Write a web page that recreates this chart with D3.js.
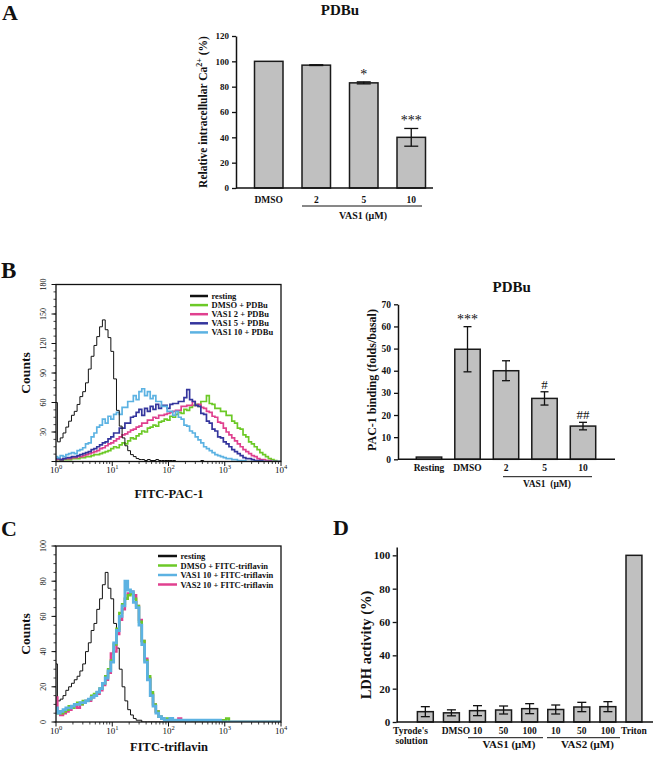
<!DOCTYPE html>
<html><head><meta charset="utf-8">
<script src="https://cdn.jsdelivr.net/npm/d3@7/dist/d3.min.js"></script>
<style>
body{margin:0;background:#fff}
svg{display:block;font-family:"Liberation Serif","Times New Roman",serif}
</style></head><body>
<svg id="fig" width="660" height="758"></svg>
<script>
// ---------------- DATA ----------------
// Panel A: relative intracellular Ca2+ (%)
const aCategories = ["DMSO", "2", "5", "10"];
const aValues = [100, 97, 83, 40];
const aErrors = [0, 0.3, 0.8, 7];
const aMarks = ["", "", "*", "***"];
const aTicks = [0, 20, 40, 60, 80, 100, 120];

// Panel B right: PAC-1 binding (folds/basal)
const bCategories = ["Resting", "DMSO", "2", "5", "10"];
const bValues = [1, 49.7, 40, 27.5, 15];
const bErrors = [0, 10.2, 4.5, 3, 1.7];
const bMarks = ["", "***", "", "#", "##"];
const bTicks = [0, 10, 20, 30, 40, 50, 60, 70];

// Panel D: LDH activity (%)
const dCategories = ["Tyrode's", "DMSO", "10", "50", "100", "10", "50", "100", "Triton"];
const dValues = [6.2, 5.5, 6.8, 7.2, 8.0, 7.5, 9.0, 9.2, 100];
const dErrors = [3, 1.8, 3, 2.4, 3, 2.7, 2.8, 3, 0];
const dTicks = [0, 20, 40, 60, 80, 100];

// Flow cytometry histograms: log10 channel bins (0 .. 4 decades)
const logBins = [0,0.05,0.1,0.15,0.2,0.25,0.3,0.35,0.4,0.45,0.5,0.55,0.6,0.65,0.7,0.75,0.8,0.85,0.9,0.95,
 1,1.05,1.1,1.15,1.2,1.25,1.3,1.35,1.4,1.45,1.5,1.55,1.6,1.65,1.7,1.75,1.8,1.85,1.9,1.95,
 2,2.05,2.1,2.15,2.2,2.25,2.3,2.35,2.4,2.45,2.5,2.55,2.6,2.65,2.7,2.75,2.8,2.85,2.9,2.95,
 3,3.05,3.1,3.15,3.2,3.25,3.3,3.35,3.4,3.45,3.5,3.55,3.6,3.65,3.7,3.75,3.8,3.85,3.9,3.95,4];
const decadeTicks = [1, 10, 100, 1000, 10000];
const decadeExp = ["0", "1", "2", "3", "4"];

// Panel B histogram counts
const bRestingCounts = [60,20,24,29,35,41,47,51,58,66, 71,80,94,107,118,127,137,144,134,126,
 112,84,52,36,24,16,11,7,5,3, 2,2,1,2,1,1,2,1,1,1, 1,1,1,0,0,0,0,0,0,0,
 0,0,1,0,0,0,0,0,0,0, 0,0,0,0,0,0,0,0,0,0, 0,0,0,0,0,0,0,0,0,0, 0];
const bDmsoCounts = [2,2,1,2,2,2,3,3,3,4, 4,5,5,6,7,7,8,9,10,11,
 13,15,14,17,19,18,21,24,23,26, 28,31,30,34,35,37,36,40,41,43,
 42,46,45,48,50,49,53,52,55,57, 58,56,61,61,67,59,58,54,54,51,
 51,47,47,41,39,34,33,27,25,20, 18,15,12,9,7,5,3,2,1,0, 0];
const bVas1_2Counts = [2,3,2,3,3,3,4,4,5,5, 6,7,8,9,10,11,13,14,16,18,
 19,21,23,25,27,28,30,32,33,35, 36,39,39,42,42,45,44,47,47,48,
 49,50,51,52,52,56,56,57,57,61, 57,58,55,54,51,50,46,45,40,39,
 34,30,27,24,21,18,15,12,10,8, 6,5,3,2,2,1,1,0,0,0, 0];
const bVas1_5Counts = [3,3,2,3,4,4,5,5,6,7, 8,9,10,12,13,15,17,19,20,23,
 25,29,29,34,34,39,39,45,46,50, 53,47,54,51,56,53,58,54,57,57,
 54,58,59,59,61,61,65,73,63,61, 57,56,49,48,41,39,33,31,25,24,
 20,18,15,12,10,8,6,4,3,3, 2,1,1,1,0,0,0,0,0,0, 0];
const bVas1_10Counts = [5,4,6,5,7,8,9,8,11,12, 14,18,19,25,29,35,37,43,39,46,
 43,48,50,48,55,55,61,61,67,63, 71,74,67,71,64,67,61,61,56,56,
 51,51,47,51,45,43,37,36,31,29, 25,22,19,15,13,11,9,7,6,5,
 4,3,3,2,2,1,1,1,0,0, 0,0,0,0,0,0,0,0,0,0, 0];

// Panel C histogram counts
const cRestingCounts = [33,12,13,15,18,20,22,24,26,29, 33,40,45,52,56,64,70,78,85,76,
 70,56,42,30,20,12,7,4,2,1, 1,0,0,0,0,0,0,0,0,0,
 0,0,0,0,0,0,0,0,0,0, 0,0,0,0,0,0,0,0,0,0, 0,0,0,0,0,0,0,0,0,0, 0,0,0,0,0,0,0,0,0,0, 0];
const cDmsoCounts = [6,5,5,6,7,9,8,10,11,10, 12,12,13,15,16,17,19,22,26,30,
 35,44,53,62,67,70,72,73,70,66, 57,46,35,26,17,10,6,3,2,1,
 2,1,1,1,1,1,1,1,1,1, 1,1,1,1,1,1,0,1,1,0, 1,2,0,0,0,0,0,0,0,0, 0,0,0,0,0,0,0,0,0,0, 0];
const cVas1Counts = [8,5,6,7,8,8,9,10,10,11, 11,12,13,14,15,17,19,22,25,29,
 34,45,52,60,66,80,75,74,68,65, 55,44,34,24,15,9,5,3,2,1,
 1,2,1,1,1,1,1,0,1,1, 1,1,1,1,0,1,1,1,1,0, 0,0,0,0,0,0,0,0,0,0, 0,0,0,0,0,0,0,0,0,0, 0];
const cVas2Counts = [14,6,4,5,6,7,8,9,8,10, 11,12,12,14,15,16,18,21,24,28,
 39,40,50,58,64,70,73,74,72,66, 58,46,36,25,16,10,6,3,2,1,
 1,1,1,1,2,1,1,1,1,1, 1,1,1,1,1,1,1,1,1,1, 0,0,0,0,0,0,0,0,0,0, 0,0,0,0,0,0,0,0,0,0, 0];

const bLegend = ["resting", "DMSO + PDBu", "VAS1 2 + PDBu", "VAS1 5 + PDBu", "VAS1 10 + PDBu"];
const cLegend = ["resting", "DMSO + FITC-triflavin", "VAS1 10 + FITC-triflavin", "VAS2 10 + FITC-triflavin"];

// ---------------- DRAWING ----------------
const svg = d3.select("#fig");
const INK = "#111";
const BAR = "#c0c0c0";
const COL = {black:"#111111", green:"#6cc927", magenta:"#e0408f", navy:"#34359d", sky:"#5cb2e2"};

function txt(g, x, y, s, size, opt = {}) {
  return g.append("text").attr("x", x).attr("y", y).text(s)
    .attr("font-size", size).attr("font-weight", opt.weight || "bold")
    .attr("text-anchor", opt.anchor || "start").attr("fill", INK);
}

function barPanel(c) {
  const g = svg.append("g");
  const idx = c.values.map((d, i) => i);
  const x = d3.scaleBand().domain(idx).range(c.band).paddingInner(c.pad).paddingOuter(c.pad / 2);
  const y = d3.scaleLinear().domain(c.yDomain).range(c.yRange);
  g.selectAll("rect.bar").data(c.values).join("rect").attr("class", "bar")
    .attr("x", (d, i) => x(i)).attr("y", d => y(d))
    .attr("width", x.bandwidth()).attr("height", d => y(0) - y(d))
    .attr("fill", BAR).attr("stroke", "#1a1a1a").attr("stroke-width", 1.5);
  const eg = g.append("g").attr("stroke", INK).attr("stroke-width", 1.3);
  c.values.forEach((v, i) => {
    const e = c.errors[i]; if (!e) return;
    const cx = x(i) + x.bandwidth() / 2;
    eg.append("line").attr("x1", cx).attr("x2", cx).attr("y1", y(v - e)).attr("y2", y(v + e));
    [v - e, v + e].forEach(t => eg.append("line").attr("x1", cx - c.cap / 2).attr("x2", cx + c.cap / 2)
      .attr("y1", y(t)).attr("y2", y(t)));
  });
  if (c.marks) c.marks.forEach((m, i) => {
    if (!m) return;
    const cx = x(i) + x.bandwidth() / 2;
    txt(g, cx, y(c.values[i] + c.errors[i]) - 3, m, m.includes("#") ? 13 : 14, {anchor: "middle", weight: "normal"});
  });
  const ya = g.append("g").attr("transform", `translate(${c.axisX},0)`)
    .call(d3.axisLeft(y).tickValues(c.ticks).tickSize(4).tickPadding(c.tickPad).tickSizeOuter(0));
  ya.select(".domain").attr("stroke", INK).attr("stroke-width", 1.5);
  ya.selectAll(".tick line").attr("stroke", INK).attr("stroke-width", 1.3);
  ya.selectAll("text").attr("font-family", "Liberation Serif").attr("font-weight", "bold")
    .attr("font-size", c.tickFont).attr("fill", INK);
  g.append("line").attr("x1", c.axisX).attr("x2", c.axisEnd).attr("y1", y(0)).attr("y2", y(0))
    .attr("stroke", INK).attr("stroke-width", 1.5);
  return {g, x, y};
}

// ----- Panel A -----
txt(svg, 2, 20, "A", 22);
txt(svg, 340, 15, "PDBu", 15, {anchor: "middle"});
const pA = barPanel({values: aValues, errors: aErrors, marks: aMarks, band: [245, 435], pad: 0.4,
  yDomain: [0, 120], yRange: [188, 36], ticks: aTicks, axisX: 236, axisEnd: 433, tickPad: 3,
  tickFont: 9, cap: 14});
aCategories.forEach((s, i) => txt(pA.g, pA.x(i) + pA.x.bandwidth() / 2, 202.5, s, 9.5, {anchor: "middle"}));
pA.g.append("line").attr("x1", 302).attr("x2", 422).attr("y1", 206).attr("y2", 206).attr("stroke", INK).attr("stroke-width", 1);
txt(pA.g, 363, 218.5, "VAS1 (μM)", 10, {anchor: "middle"});
{
  const t = pA.g.append("text").attr("transform", "translate(207,112) rotate(-90)")
    .attr("text-anchor", "middle").attr("font-size", 11.5).attr("font-weight", "bold").attr("fill", INK);
  t.append("tspan").text("Relative intracellular Ca");
  t.append("tspan").attr("dy", -5).attr("font-size", 8).text("2+");
  t.append("tspan").attr("dy", 5).text(" (%)");
}

// ----- Panel B right -----
txt(svg, 511.7, 292, "PDBu", 15, {anchor: "middle"});
const pB = barPanel({values: bValues, errors: bErrors, marks: bMarks, band: [409.75, 602.25], pad: 0.34,
  yDomain: [0, 70], yRange: [459.3, 304.3], ticks: bTicks, axisX: 398, axisEnd: 615, tickPad: 3,
  tickFont: 9.5, cap: 8});
bCategories.forEach((s, i) => txt(pB.g, pB.x(i) + pB.x.bandwidth() / 2, 470.5, s, 9.5, {anchor: "middle"}));
pB.g.append("line").attr("x1", 503).attr("x2", 592).attr("y1", 476.7).attr("y2", 476.7).attr("stroke", INK).attr("stroke-width", 1);
txt(pB.g, 547, 487, "VAS1  (μM)", 9.5, {anchor: "middle"}).attr("xml:space", "preserve").style("white-space", "pre");
pB.g.append("text").attr("transform", "translate(376,380) rotate(-90)").attr("text-anchor", "middle")
  .attr("font-size", 12).attr("font-weight", "bold").attr("fill", INK).text("PAC-1 binding (folds/basal)");

// ----- Panel D -----
txt(svg, 333, 535, "D", 22);
const pD = barPanel({values: dValues, errors: dErrors, band: [412.3, 647], pad: 0.39,
  yDomain: [0, 105], yRange: [722, 547], ticks: dTicks, axisX: 396.7, axisEnd: 653, tickPad: 2.5,
  tickFont: 11, cap: 9});
dCategories.forEach((s, i) => {
  const cx = pD.x(i) + pD.x.bandwidth() / 2;
  if (i === 0) txt(pD.g, 393, 733.5, s, 9.5);
  else if (i === 1) txt(pD.g, cx + 4.5, 733.5, s, 9.5, {anchor: "middle"});
  else txt(pD.g, cx, 733.5, s, 9.5, {anchor: "middle"});
});
txt(pD.g, 395.5, 743.5, "solution", 9.5);
pD.g.append("line").attr("x1", 468).attr("x2", 543).attr("y1", 737.7).attr("y2", 737.7).attr("stroke", INK).attr("stroke-width", 1);
pD.g.append("line").attr("x1", 547).attr("x2", 620).attr("y1", 737.7).attr("y2", 737.7).attr("stroke", INK).attr("stroke-width", 1);
txt(pD.g, 509, 748, "VAS1 (μM)", 11, {anchor: "middle"});
txt(pD.g, 587.5, 748, "VAS2 (μM)", 11, {anchor: "middle"});
pD.g.append("text").attr("transform", "translate(371,645) rotate(-90)").attr("text-anchor", "middle")
  .attr("font-size", 14.5).attr("font-weight", "bold").attr("fill", INK).text("LDH activity (%)");

// ----- Flow histogram panels -----
function flowPanel(c) {
  const g = svg.append("g");
  const L = 56, R = 281;
  const x = d3.scaleLog().domain([1, 1e4]).range([L, R]);
  const y = d3.scaleLinear().domain([0, c.yMax]).range([c.bottom, c.top]);
  const clipId = "clip" + c.id;
  g.append("clipPath").attr("id", clipId).append("rect")
    .attr("x", L).attr("y", c.top).attr("width", R - L).attr("height", c.bottom - c.top);
  const line = d3.line().x((d, i) => x(Math.pow(10, logBins[i]))).y(d => y(d)).curve(d3.curveStep);
  const lines = g.append("g").attr("clip-path", `url(#${clipId})`);
  c.series.forEach(s => {
    lines.append("path").attr("d", line(s.counts)).attr("fill", "none")
      .attr("stroke", s.color).attr("stroke-width", s.width).attr("stroke-linejoin", "miter");
  });
  g.append("rect").attr("x", L).attr("y", c.top).attr("width", R - L).attr("height", c.bottom - c.top)
    .attr("fill", "none").attr("stroke", INK).attr("stroke-width", 1.3);
  const minor = [];
  decadeTicks.slice(0, 4).forEach(d => { for (let k = 2; k <= 9; k++) minor.push(d * k); });
  g.selectAll("line.mn").data(minor).join("line").attr("x1", d => x(d)).attr("x2", d => x(d))
    .attr("y1", c.bottom).attr("y2", c.bottom + 2.5).attr("stroke", INK).attr("stroke-width", 0.8);
  g.selectAll("line.mj").data(decadeTicks).join("line").attr("x1", d => x(d)).attr("x2", d => x(d))
    .attr("y1", c.bottom).attr("y2", c.bottom + 4.5).attr("stroke", INK).attr("stroke-width", 1);
  decadeTicks.forEach((d, i) => {
    const t = g.append("text").attr("x", x(d)).attr("y", c.bottom + 11.5).attr("text-anchor", "middle")
      .attr("font-size", 9).attr("fill", INK);
    t.append("tspan").text("10");
    t.append("tspan").attr("dy", -4).attr("font-size", 6.5).text(decadeExp[i]);
  });
  const yMinor = d3.range(0, c.yMax + 0.001, c.yStep / 4);
  g.selectAll("line.ymn").data(yMinor).join("line").attr("x1", L - 2.5).attr("x2", L)
    .attr("y1", d => y(d)).attr("y2", d => y(d)).attr("stroke", INK).attr("stroke-width", 0.8);
  g.selectAll("line.ymj").data(c.yTicks).join("line").attr("x1", L - 4.5).attr("x2", L)
    .attr("y1", d => y(d)).attr("y2", d => y(d)).attr("stroke", INK).attr("stroke-width", 1);
  c.yTicks.filter(d => c.labelZero || d > 0).forEach(d => {
    g.append("text").attr("transform", `translate(46,${y(d)}) rotate(-90)`).attr("text-anchor", "middle")
      .attr("font-size", 8).attr("fill", INK).text(d);
  });
  g.append("text").attr("transform", `translate(30,${(c.top + c.bottom) / 2}) rotate(-90)`)
    .attr("text-anchor", "middle").attr("font-size", 13.5).attr("font-weight", "bold").attr("fill", INK).text("Counts");
  txt(g, 169, c.xTitleY, c.xTitle, 12.5, {anchor: "middle"});
  c.legend.forEach((s, i) => {
    const yy = c.legY + i * c.legStep;
    g.append("line").attr("x1", c.legX1).attr("x2", c.legX2).attr("y1", yy).attr("y2", yy)
      .attr("stroke", c.legColors[i]).attr("stroke-width", 2.5);
    txt(g, c.legX2 + 3.5, yy + 3, s, c.legFont);
  });
}

txt(svg, 1, 278, "B", 23);
flowPanel({id: "B", yMax: 180, yStep: 30, yTicks: [0, 30, 60, 90, 120, 150, 180], labelZero: false,
  top: 284.5, bottom: 461.5, xTitle: "FITC-PAC-1", xTitleY: 497.5,
  series: [
    {counts: bDmsoCounts, color: COL.green, width: 1.7},
    {counts: bVas1_2Counts, color: COL.magenta, width: 1.7},
    {counts: bVas1_5Counts, color: COL.navy, width: 1.7},
    {counts: bVas1_10Counts, color: COL.sky, width: 1.7},
    {counts: bRestingCounts, color: COL.black, width: 1}],
  legend: bLegend, legColors: [COL.black, COL.green, COL.magenta, COL.navy, COL.sky],
  legX1: 190, legX2: 208, legY: 296, legStep: 9.1, legFont: 8.5});

txt(svg, 1, 536, "C", 22);
flowPanel({id: "C", yMax: 100, yStep: 20, yTicks: [0, 20, 40, 60, 80, 100], labelZero: true,
  top: 546, bottom: 722, xTitle: "FITC-triflavin", xTitleY: 750.5,
  series: [
    {counts: cRestingCounts, color: COL.black, width: 1},
    {counts: cVas2Counts, color: COL.magenta, width: 2.4},
    {counts: cDmsoCounts, color: COL.green, width: 2.4},
    {counts: cVas1Counts, color: COL.sky, width: 2.8}],
  legend: cLegend, legColors: [COL.black, COL.green, COL.sky, COL.magenta],
  legX1: 158, legX2: 177, legY: 556, legStep: 9.5, legFont: 8.5});
</script>
</body></html>
